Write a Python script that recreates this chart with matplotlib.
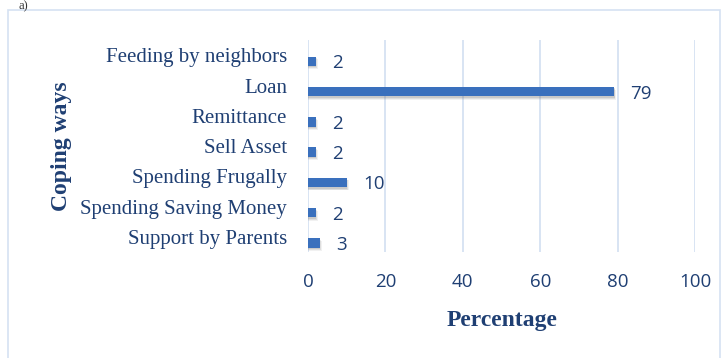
import matplotlib.pyplot as plt
from matplotlib.patches import Rectangle

# coping strategies and share of households (%)
ways = ['Feeding by neighbors', 'Loan', 'Remittance', 'Sell Asset',
        'Spending Frugally', 'Spending Saving Money', 'Support by Parents']
percent = [2, 79, 2, 2, 10, 2, 3]
ticks = [0, 20, 40, 60, 80, 100]

text_col = '#1f3f73'
bar_col = '#3a70bd'

fig = plt.figure(figsize=(7.28, 3.58), dpi=100)
ax = fig.add_axes([0.423, 0.296, 0.532, 0.592])

# outer frame around the chart
fig.patches.append(Rectangle((8 / 728, -0.1), 712 / 728, 1.1 - 10 / 358,
                             transform=fig.transFigure, fill=False,
                             edgecolor='#d5e2f2', lw=1.2))
fig.text(0.026, 0.999, 'a)', fontsize=9, family='Liberation Serif',
         color='#333333', va='top')

pos = list(range(len(ways)))
# bars sit a little below the category centre
bpos = [p + 0.2 for p in pos]
# soft drop shadow under the bars
for dx, dy, a in [(0.6, 0.10, 0.10), (0.4, 0.07, 0.15), (0.2, 0.04, 0.2)]:
    ax.barh([p + dy for p in bpos], [v + dx for v in percent], height=0.33,
            color='#777777', alpha=a, zorder=2)
ax.barh(bpos, percent, height=0.31, color=bar_col, zorder=3)

for p, v in zip(bpos, percent):
    ax.annotate(str(v), (v, p), xytext=(12, -1.5), textcoords='offset points',
                va='center', ha='left', fontsize=13.5, family='Open Sans',
                color=text_col, zorder=4)

ax.set_ylim(len(ways) - 0.5, -0.5)
ax.set_xlim(0, 100)
ax.set_yticks(pos)
ax.set_yticklabels(ways, family='Liberation Serif', fontsize=15, color=text_col)
ax.set_xticks(ticks)
ax.set_xticklabels([str(t) for t in ticks], family='Open Sans', fontsize=13.5,
                   color=text_col)
ax.tick_params(axis='both', length=0)
ax.tick_params(axis='x', pad=15)
ax.tick_params(axis='y', pad=15)

ax.grid(axis='x', color='#d5e2f2', lw=1.3, zorder=0)
ax.set_axisbelow(True)
for s in ax.spines.values():
    s.set_visible(False)

ax.set_xlabel('Percentage', family='Liberation Serif', fontsize=17,
              fontweight='bold', color=text_col, labelpad=14)
fig.text(62 / 728, 1 - 146 / 358, 'Coping ways', rotation=90, ha='center',
         va='center', family='Liberation Serif', fontsize=17,
         fontweight='bold', color=text_col)

fig.savefig('out.png', dpi=100)
